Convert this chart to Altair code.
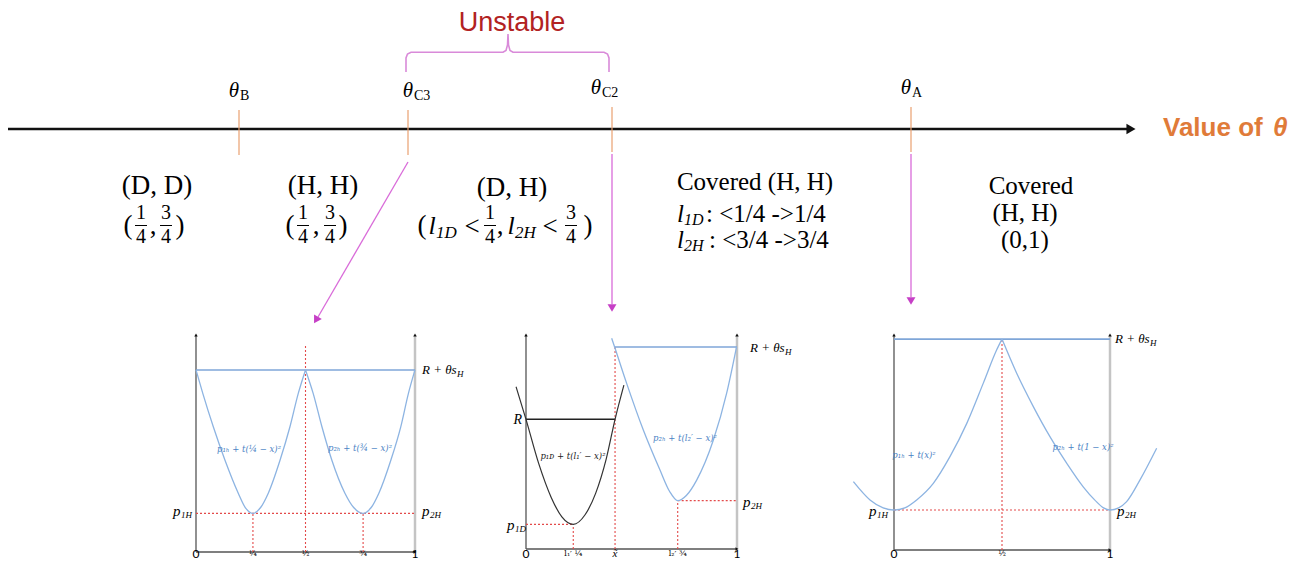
import altair as alt
import pandas as pd

# ------------------------------------------------------------------
# Values
# ------------------------------------------------------------------
# thresholds on the θ line (position along the line, label subscript)
theta_subs = ["B", "C3", "C2", "A"]
theta_pos = [239, 408, 612, 911]

region_heads = ["(D, D)", "(H, H)", "(D, H)"]
covered_heads = ["Covered (H, H)", "Covered"]
covered_rows = [": <1/4 ->1/4", ": <3/4 ->3/4"]
covered_last = ["(H, H)", "(0,1)"]

# sub-plot curves, in each panel's own units (x: 0..1 along the street, y: 0..1 price)
p1_left_x = [0, 0.031, 0.079, 0.132, 0.193, 0.225, 0.26, 0.295, 0.33, 0.384, 0.429, 0.467, 0.5]
p1_left_y = [0.839, 0.731, 0.577, 0.424, 0.271, 0.205, 0.178, 0.205, 0.271, 0.424, 0.577, 0.731, 0.839]
p1_right_x = [0.5, 0.535, 0.575, 0.62, 0.68, 0.72, 0.763, 0.80, 0.835, 0.89, 0.935, 0.97, 1.0]
p1_right_y = [0.839, 0.731, 0.577, 0.424, 0.271, 0.205, 0.178, 0.205, 0.271, 0.424, 0.577, 0.731, 0.839]

p2_black_x = [-0.047, 0, 0.06, 0.12, 0.17, 0.224, 0.28, 0.33, 0.38, 0.422, 0.464]
p2_black_y = [0.758, 0.606, 0.40, 0.24, 0.15, 0.115, 0.16, 0.26, 0.42, 0.606, 0.766]
p2_blue_x = [0.406, 0.422, 0.477, 0.556, 0.635, 0.68, 0.719, 0.76, 0.809, 0.888, 0.951, 0.998]
p2_blue_y = [0.985, 0.938, 0.774, 0.556, 0.369, 0.27, 0.226, 0.25, 0.322, 0.509, 0.728, 0.945]

p3_left_x = [-0.188, -0.111, -0.05, 0, 0.05, 0.105, 0.182, 0.259, 0.337, 0.413, 0.475, 0.5]
p3_left_y = [0.318, 0.233, 0.196, 0.186, 0.196, 0.233, 0.310, 0.434, 0.589, 0.775, 0.930, 0.981]
p3_right_x = [0.5, 0.568, 0.645, 0.722, 0.8, 0.876, 0.93, 0.97, 1.0, 1.04, 1.077, 1.139, 1.216]
p3_right_y = [0.981, 0.822, 0.667, 0.527, 0.403, 0.294, 0.232, 0.196, 0.186, 0.196, 0.225, 0.326, 0.473]

# levels in the panels
p1_top, p1_floor, p1_kink, p1_mins = 0.839, 0.178, 0.5, [0.26, 0.763]
p2_top, p2_R, p2_xt, p2_min1, p2_min2 = 0.944, 0.606, 0.422, (0.224, 0.115), (0.719, 0.226)
p3_top, p3_floor, p3_kink = 0.981, 0.186, 0.5

# ------------------------------------------------------------------
# Layout (pixel frame of the picture)
# ------------------------------------------------------------------
XS = alt.Scale(domain=[8, 1303], nice=False, zero=False)
YS = alt.Scale(domain=[8, 561], nice=False, zero=False, reverse=True)
BOX = {1: (196, 415, 552, 335), 2: (526, 737, 549, 335), 3: (894, 1110, 550, 335)}
TICK_Y = 554


def to_px(k, u, v):
    x0, x1, yb, yt = BOX[k]
    return x0 + u * (x1 - x0), yb - v * (yb - yt)


def enc():
    return dict(x=alt.X("x:Q", scale=XS, axis=None), y=alt.Y("y:Q", scale=YS, axis=None))


def seg_layer(rows, color, width=1.0, dash=None, opacity=1.0):
    df = pd.DataFrame(rows, columns=["x", "y", "x2", "y2"])
    kw = dict(color=color, strokeWidth=width, opacity=opacity)
    if dash:
        kw["strokeDash"] = dash
    return alt.Chart(df).mark_rule(**kw).encode(**enc(), x2="x2:Q", y2="y2:Q")


def model_segs(rows):
    out = []
    for k, u1, v1, u2, v2 in rows:
        a = to_px(k, u1, v1)
        b = to_px(k, u2, v2)
        out.append((a[0], a[1], b[0], b[1]))
    return out


def text_layer(rows, size, font="Liberation Serif", style="normal", weight="normal",
               color="#000", align="center", baseline="middle"):
    df = pd.DataFrame(rows, columns=["t", "x", "y"])
    return alt.Chart(df).mark_text(fontSize=size, font=font, fontStyle=style, fontWeight=weight,
                                   color=color, align=align, baseline=baseline).encode(**enc(), text="t:N")


def point_layer(rows, shape, size, color, angle=0):
    df = pd.DataFrame(rows, columns=["x", "y"])
    return alt.Chart(df).mark_point(shape=shape, size=size, filled=True, color=color,
                                    opacity=1, angle=angle, strokeWidth=0).encode(**enc())


def curve_layer(curves, color, width=1.2, interp="monotone"):
    rows = []
    for cid, (k, xs, ys) in enumerate(curves):
        for i, (u, v) in enumerate(zip(xs, ys)):
            px, py = to_px(k, u, v)
            rows.append((cid, i, px, py))
    df = pd.DataFrame(rows, columns=["id", "o", "x", "y"])
    return alt.Chart(df).mark_line(color=color, strokeWidth=width, interpolate=interp).encode(
        **enc(), detail="id:N", order="o:Q")


layers = []

# ---------------- θ line ----------------
layers.append(seg_layer([(8, 129, 1127, 129)], "#111", 2.5))
layers.append(point_layer([(1131, 129)], "triangle-right", 110, "#111"))
layers.append(text_layer([("Value of", 1163, 128)], 26, font="Liberation Sans", weight="bold",
                         color="#E07B39", align="left"))
layers.append(text_layer([("θ", 1273, 128)], 26, font="Liberation Sans", weight="bold", style="italic",
                         color="#E07B39", align="left"))

tick_tops = [110, 110, 107, 107]
tick_bots = [155, 155, 152, 152]
layers.append(seg_layer([(p, t, p, b) for p, t, b in zip(theta_pos, tick_tops, tick_bots)], "#E9A070", 1.2))
theta_lab_x = [234, 408, 596, 906]
theta_lab_y = [91, 91, 88, 88]
layers.append(text_layer([("θ", x, y) for x, y in zip(theta_lab_x, theta_lab_y)], 21, style="italic"))
layers.append(text_layer([(s, x + 6, y + 5) for s, x, y in zip(theta_subs, theta_lab_x, theta_lab_y)], 14,
                         align="left"))

# Unstable brace
layers.append(text_layer([("Unstable", 512, 23)], 27, font="Liberation Sans", color="#B22222"))
brace = [(406, 72), (406, 58), (407.5, 54), (411, 52.3), (503, 52.3), (506, 50.5), (507.5, 45), (508, 34),
         (508.5, 45), (510, 50.5), (513, 52.3), (604, 52.3), (607.5, 54), (609, 58), (609, 72)]
bdf = pd.DataFrame([(i, x, y) for i, (x, y) in enumerate(brace)], columns=["o", "x", "y"])
layers.append(alt.Chart(bdf).mark_line(color="#D98AD9", strokeWidth=1.6).encode(**enc(), order="o:Q"))

# ---------------- region labels ----------------
head_pos = [(157, 186), (323, 186), (512, 188)]
layers.append(text_layer([(t, x, y) for t, (x, y) in zip(region_heads, head_pos)], 27))
layers.append(text_layer([(covered_heads[0], 755, 182), (covered_heads[1], 1031, 186)], 25))
layers.append(text_layer([(t, 1025, y) for t, y in zip(covered_last, [213, 240])], 25))

# fractions (1/4, 3/4)
NUM_Y, DEN_Y, BAR_Y, ROW_Y = 213, 237, 225.5, 226
fracs = [(141, "1", "4"), (166, "3", "4"), (303, "1", "4"), (330, "3", "4"), (490, "1", "4"), (571, "3", "4")]
layers.append(text_layer([(n, x, NUM_Y) for x, n, d in fracs] + [(d, x, DEN_Y) for x, n, d in fracs], 20))
layers.append(seg_layer([(x - 6, BAR_Y, x + 6, BAR_Y) for x, n, d in fracs], "#000", 1.0))
parens = [("(", 128, ROW_Y), (",", 153, ROW_Y), (")", 180, ROW_Y),
          ("(", 290, ROW_Y), (",", 316, ROW_Y), (")", 343, ROW_Y),
          ("(", 422, ROW_Y), ("<", 472, ROW_Y + 1), (",", 500, ROW_Y), ("<", 550, ROW_Y + 1), (")", 588, ROW_Y)]
layers.append(text_layer(parens, 27))
layers.append(text_layer([("l", 432, ROW_Y), ("l", 511, ROW_Y)], 26, style="italic"))
layers.append(text_layer([("1D", 436, ROW_Y + 7), ("2H", 515, ROW_Y + 7)], 17, style="italic", align="left"))

# covered rows
layers.append(text_layer([("l", 677, 214), ("l", 677, 240)], 25, style="italic", align="left"))
layers.append(text_layer([("1D", 684, 220), ("2H", 684, 246)], 16, style="italic", align="left"))
layers.append(text_layer([(covered_rows[0], 706, 214), (covered_rows[1], 709, 240)], 25, align="left"))

# ---------------- magenta arrows ----------------
layers.append(seg_layer([(408, 162, 318, 317), (612, 154, 612, 304), (911, 154, 911, 297)], "#D96BD9", 1.3))
layers.append(point_layer([(316, 320)], "triangle-down", 80, "#C63FC6", angle=30))
layers.append(point_layer([(612, 308), (911, 301)], "triangle-down", 80, "#C63FC6"))

# ---------------- panels: axes ----------------
axis_dark = model_segs([(k, 0, 0, 0, 1) for k in (1, 2, 3)] + [(k, 0, 0, 1, 0) for k in (1, 2, 3)])
axis_light = model_segs([(k, 1, 0, 1, 1) for k in (1, 2, 3)])
layers.append(seg_layer(axis_light, "#C4C4C4", 2.5))
layers.append(seg_layer(axis_dark, "#555", 1.3))
layers.append(point_layer([to_px(k, 0, 1) for k in (1, 2, 3)] + [to_px(k, 1, 1) for k in (1, 2, 3)],
                          "triangle-up", 12, "#111"))
layers.append(point_layer([to_px(k, 1, 0) for k in (1, 2, 3)], "triangle-right", 12, "#111"))

# red dotted guides
red = model_segs([
    (1, 0, p1_floor, 1, p1_floor), (1, p1_kink, 0, p1_kink, 0.954),
    (1, p1_mins[0], 0, p1_mins[0], p1_floor), (1, p1_mins[1], 0, p1_mins[1], p1_floor),
    (2, 0, p2_min1[1], p2_min1[0], p2_min1[1]), (2, p2_min1[0], 0, p2_min1[0], p2_min1[1]),
    (2, p2_xt, 0, p2_xt, p2_top),
    (2, p2_min2[0], p2_min2[1], 1, p2_min2[1]), (2, p2_min2[0], 0, p2_min2[0], p2_min2[1]),
    (3, 0, p3_floor, 1, p3_floor), (3, p3_kink, 0, p3_kink, p3_top),
])
layers.append(seg_layer(red, "#E34A4A", 1.1, dash=[2, 2]))

# price ceilings
layers.append(seg_layer(model_segs([(1, 0, p1_top, 1, p1_top), (2, p2_xt, p2_top, 1, p2_top),
                                    (3, 0, p3_top, 1, p3_top)]), "#7FA6D8", 1.6))
layers.append(seg_layer(model_segs([(2, 0, p2_R, p2_xt, p2_R)]), "#222", 1.4))

# curves
layers.append(curve_layer([(1, p1_left_x, p1_left_y), (1, p1_right_x, p1_right_y),
                           (2, p2_blue_x, p2_blue_y),
                           (3, p3_left_x, p3_left_y), (3, p3_right_x, p3_right_y)], "#8DB4E2", 1.3))
layers.append(curve_layer([(2, p2_black_x, p2_black_y)], "#333", 1.2))

# ---------------- panel texts ----------------
# R + θs_H
rt = [(422, 370), (750, 348), (1115, 339)]
layers.append(text_layer([("R + θs", x, y) for x, y in rt], 13, style="italic", align="left"))
layers.append(text_layer([("H", x + 35, y + 4) for x, y in rt], 9, style="italic", align="left"))
layers.append(text_layer([("R", 522, 420)], 14, style="italic", align="right"))
pl = [(173, 511, "1H"), (422, 511, "2H"), (507, 525, "1D"), (743, 502, "2H"), (869, 511, "1H"), (1117, 511, "2H")]
layers.append(text_layer([("p", x, y) for x, y, s in pl], 15, style="italic", align="left"))
layers.append(text_layer([(s, x + 8, y + 4) for x, y, s in pl], 9, style="italic", align="left"))

# tick labels under the panels
big_ticks = [(k, u, t) for k in (1, 2, 3) for u, t in ((0, "0"), (1, "1"))]
layers.append(text_layer([(t, to_px(k, u, 0)[0], TICK_Y) for k, u, t in big_ticks], 12, font="Lato"))
small_ticks = [(1, 0.26, "¼"), (1, 0.5, "½"), (1, 0.763, "¾"), (2, 0.224, "l₁′ ¼"), (2, 0.719, "l₂′ ¾"),
               (3, 0.5, "½")]
layers.append(text_layer([(t, to_px(k, u, 0)[0], TICK_Y) for k, u, t in small_ticks], 8,
                         font="DejaVu Serif"))
layers.append(text_layer([("x̃", to_px(2, p2_xt, 0)[0], TICK_Y)], 11, style="italic"))

# formulas inside the panels
blue_f = [("p₁ₕ + t(¼ − x)²", 249, 449), ("p₂ₕ + t(¾ − x)²", 360, 448),
          ("p₂ₕ + t(l₂′ − x)²", 685, 438), ("p₁ₕ + t(x)²", 914, 455), ("p₂ₕ + t(1 − x)²", 1083, 447)]
layers.append(text_layer(blue_f, 8.5, font="DejaVu Serif", style="italic", color="#4A82C4"))
layers.append(text_layer([("p₁ᴅ + t(l₁′ − x)²", 573, 456)], 8.5, font="DejaVu Serif", style="italic",
                         color="#222"))

chart = alt.layer(*layers).properties(
    width=1295, height=553, padding=0, autosize=alt.AutoSizeParams(type="none")
).configure_view(strokeWidth=0)

chart.save("out.html", embed_options={"renderer": "svg", "actions": False})
